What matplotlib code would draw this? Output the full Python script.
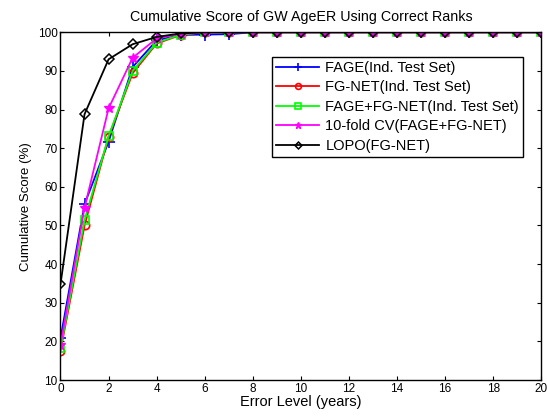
import numpy as np
import matplotlib
matplotlib.use("Agg")
import matplotlib.pyplot as plt

plt.rcParams['font.family'] = ['Liberation Sans', 'DejaVu Sans']

# error levels (years)
levels = list(range(0, 21))

# cumulative scores (%)
fage = [20.8, 55.5, 71.7, 91.0, 97.9, 99.3, 99.4, 99.5] + [100] * 13
fgnet = [17.6, 50.0, 73.0, 89.4, 97.1, 99.3, 100, 100] + [100] * 13
fage_fgnet = [18.2, 51.4, 73.1, 90.0, 97.3, 99.4, 100, 100] + [100] * 13
cv10 = [19.0, 54.6, 80.3, 93.4, 98.4, 99.6, 100, 100] + [100] * 13
lopo = [34.8, 78.8, 93.0, 96.9, 98.8, 99.7, 100, 100] + [100] * 13

labels = ['FAGE(Ind. Test Set)', 'FG-NET(Ind. Test Set)',
          'FAGE+FG-NET(Ind. Test Set)', '10-fold CV(FAGE+FG-NET)',
          'LOPO(FG-NET)']

fig = plt.figure(figsize=(5.47, 4.19), dpi=100)
ax = fig.add_axes([0.1106, 0.093, 0.879, 0.830])

ax.plot(levels, fage, color='blue', marker='+', ms=8, mew=1.2, lw=1.3, label=labels[0])
ax.plot(levels, fgnet, color='red', marker='o', ms=6, mfc='none', mew=1.2, lw=1.3, label=labels[1])
ax.plot(levels, fage_fgnet, color='#00ff00', marker='s', ms=6, mfc='none', mew=1.2, lw=1.3, label=labels[2])
ax.plot(levels, cv10, color='magenta', marker='*', ms=7, lw=1.3, label=labels[3])
ax.plot(levels, lopo, color='black', marker='D', ms=5, mfc='none', mew=1.1, lw=1.3, label=labels[4])

ax.set_xlim(0, 20)
ax.set_ylim(10, 100)
ax.set_xticks(range(0, 21, 2))
ax.set_yticks(range(10, 101, 10))
ax.tick_params(direction='in', top=True, right=True, labelsize=8.5, length=3, pad=2)
for s in ax.spines.values():
    s.set_linewidth(1.0)

ax.set_title('Cumulative Score of GW AgeER Using Correct Ranks', fontsize=10.3, pad=8)
ax.set_xlabel('Error Level (years)', fontsize=10.5, labelpad=0)
ax.set_ylabel('Cumulative Score (%)', fontsize=9.5, labelpad=4)

leg = ax.legend(loc='upper right', bbox_to_anchor=(0.962, 0.929), fontsize=10.5,
                fancybox=False, edgecolor='black', framealpha=1, markerscale=0.7,
                handlelength=3.0, handletextpad=0.4, borderpad=0.28,
                labelspacing=0.37, borderaxespad=0)
leg.get_frame().set_linewidth(1.0)

fig.savefig('out.png', dpi=100)
